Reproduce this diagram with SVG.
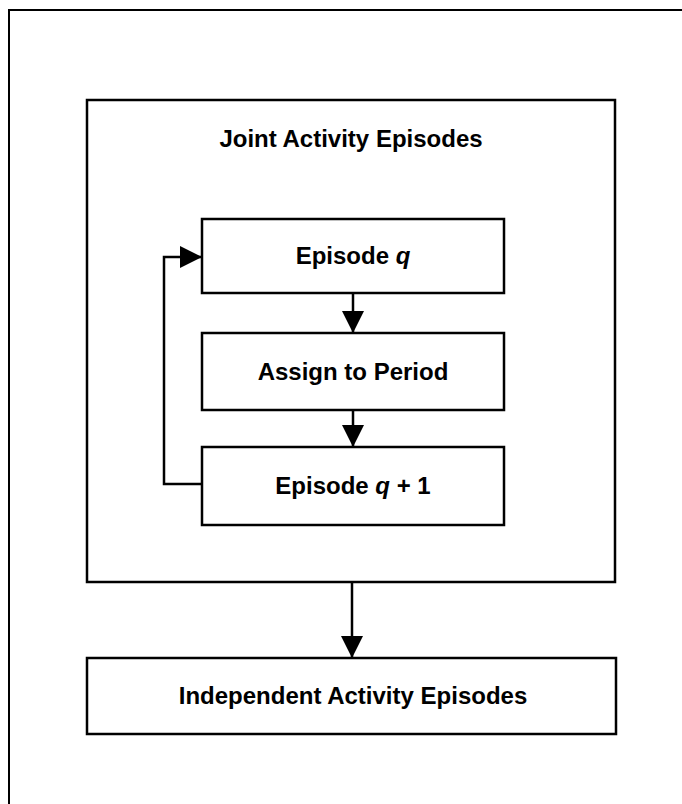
<svg xmlns="http://www.w3.org/2000/svg" width="682" height="804" viewBox="0 0 682 804">
  <style>
    .box { fill: #ffffff; stroke: #000000; stroke-width: 2.5; }
    .frame { fill: none; stroke: #000000; stroke-width: 2; }
    .link { fill: none; stroke: #000000; stroke-width: 2.5; }
    .label { font-family: "Liberation Sans", Arial, Helvetica, sans-serif; font-size: 24px; font-weight: bold; fill: #000000; text-anchor: middle; }
    .var { font-style: italic; }
  </style>
  <defs>
    <marker id="arrow" markerWidth="22" markerHeight="22" viewBox="0 0 22 22" refX="22" refY="11" orient="auto" markerUnits="userSpaceOnUse">
      <path d="M0,0 L22,11 L0,22 Z" fill="#000000"/>
    </marker>
  </defs>

  <!-- page frame (top and left edges) -->
  <path class="frame" d="M9,804 V10 H682"/>

  <g id="joint-activity-episodes">
    <rect class="box" x="87" y="100" width="528" height="482"/>
    <text class="label" x="351" y="147">Joint Activity Episodes</text>
  </g>

  <g id="episode-q">
    <rect class="box" x="202" y="219" width="302" height="74"/>
    <text class="label" x="353" y="264">Episode <tspan class="var">q</tspan></text>
  </g>

  <g id="assign-to-period">
    <rect class="box" x="202" y="333" width="302" height="77"/>
    <text class="label" x="353" y="380">Assign to Period</text>
  </g>

  <g id="episode-q-plus-1">
    <rect class="box" x="202" y="447" width="302" height="78"/>
    <text class="label" x="353" y="494">Episode <tspan class="var">q</tspan> + 1</text>
  </g>

  <g id="independent-activity-episodes">
    <rect class="box" x="87" y="658" width="529" height="76"/>
    <text class="label" x="353" y="704">Independent Activity Episodes</text>
  </g>

  <g id="connectors">
    <path class="link" d="M353,293 V333" marker-end="url(#arrow)"/>
    <path class="link" d="M353,410 V447" marker-end="url(#arrow)"/>
    <path class="link" d="M202,484 H164 V257 H202" marker-end="url(#arrow)"/>
    <path class="link" d="M352,582 V658" marker-end="url(#arrow)"/>
  </g>
</svg>
